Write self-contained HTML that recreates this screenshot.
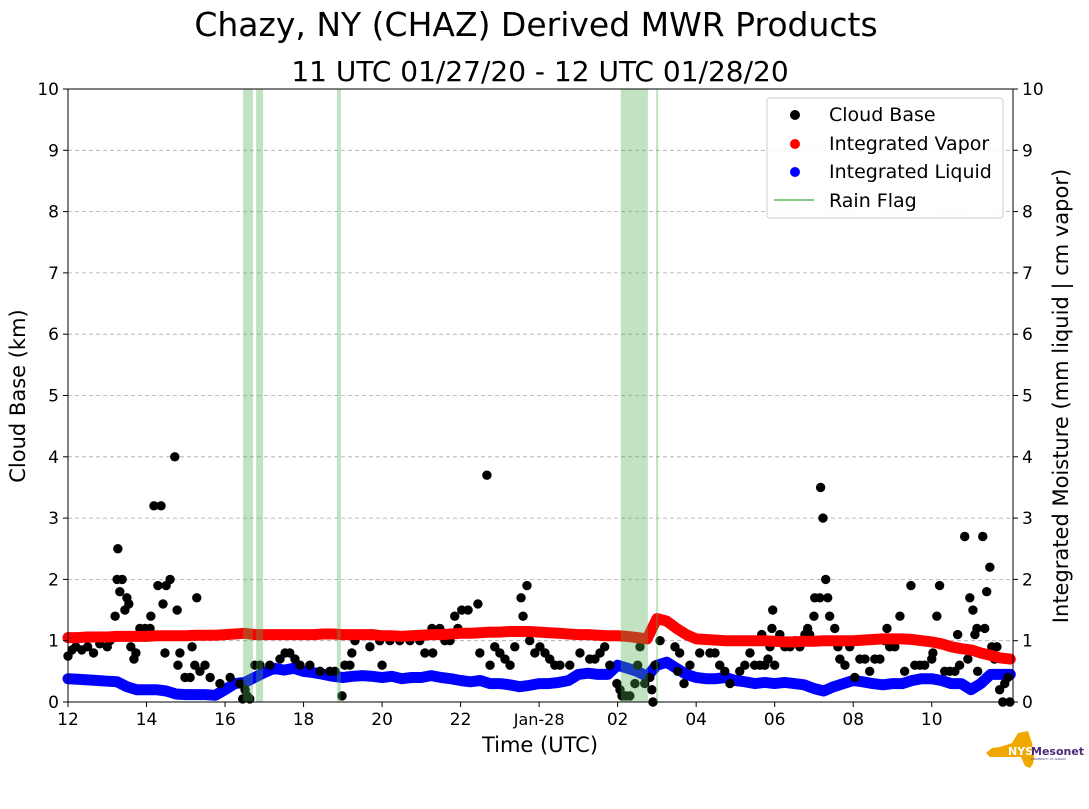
<!DOCTYPE html>
<html><head><meta charset="utf-8"><style>
body{margin:0;background:#fff;}
svg text{font-family:"DejaVu Sans","Liberation Sans",sans-serif;}
</style></head><body>
<svg id="c" width="1089" height="804" xmlns="http://www.w3.org/2000/svg">
<text x="536" y="36" font-size="33" text-anchor="middle">Chazy, NY (CHAZ) Derived MWR Products</text>
<text x="540" y="81" font-size="28" text-anchor="middle">11 UTC 01/27/20 - 12 UTC 01/28/20</text>
<g id="grid"></g><g id="marks"></g><g id="rain"></g>
<rect x="68" y="89" width="945" height="613" fill="none" stroke="#000" stroke-width="1"/>
<g id="axes"></g>
<text x="540" y="752" font-size="21" text-anchor="middle">Time (UTC)</text>
<text transform="translate(25,396) rotate(-90)" font-size="21" text-anchor="middle">Cloud Base (km)</text>
<text transform="translate(1068,396) rotate(-90)" font-size="21" text-anchor="middle">Integrated Moisture (mm liquid | cm vapor)</text>
<g>
<rect x="767" y="98" width="236" height="120" rx="3" fill="#fff" fill-opacity="0.85" stroke="#ccc"/>
<circle cx="795" cy="115" r="5" fill="#000"/><text x="829" y="121" font-size="19">Cloud Base</text>
<circle cx="795" cy="144" r="5" fill="red"/><text x="829" y="150" font-size="19">Integrated Vapor</text>
<circle cx="795" cy="172" r="5" fill="blue"/><text x="829" y="178" font-size="19">Integrated Liquid</text>
<line x1="774" y1="200" x2="814" y2="200" stroke="#5cb85c" stroke-width="1.5"/><text x="829" y="207" font-size="19">Rain Flag</text>
</g>
<g>
<path d="M1000,747 L1012,743 L1018,733 L1028,731 L1032,743 L1034,757 L1033,764 L1030,768 L1025,766 L1021,757 L990,757 L986,753 L992,748 Z" fill="#f0a800"/>
<text x="1008" y="755" font-size="11" font-weight="bold" fill="#fff">NYS</text>
<text x="1031" y="755" font-size="11" font-weight="bold" fill="#4b2a7b">Mesonet</text>
<text x="1031" y="760" font-size="3" fill="#4b2a7b">UNIVERSITY AT ALBANY</text>
</g>
</svg>
<script>
const tickLabels=["12","14","16","18","20","22","Jan-28","02","04","06","08","10"];
const yTicks=[0,1,2,3,4,5,6,7,8,9,10];
const rainStart=[4.46,4.79,6.85,14.08,14.98];
const rainEnd=[4.71,4.97,6.95,14.77,15.03];
const cloudPts=[[0,0.75],[0.1,0.85],[0.2,0.9],[0.35,0.85],[0.5,0.9],[0.65,0.8],[0.81,0.95],[1.0,0.9],[1.07,1.0],[1.2,1.4],[1.25,2.0],[1.27,2.5],[1.32,1.8],[1.38,2.0],[1.45,1.5],[1.5,1.7],[1.55,1.6],[1.6,0.9],[1.68,0.7],[1.73,0.8],[1.83,1.2],[1.96,1.2],[2.09,1.2],[2.11,1.4],[2.19,3.2],[2.29,1.9],[2.37,3.2],[2.42,1.6],[2.47,0.8],[2.5,1.9],[2.6,2.0],[2.72,4.0],[2.78,1.5],[2.8,0.6],[2.85,0.8],[2.98,0.4],[3.11,0.4],[3.16,0.9],[3.23,0.6],[3.28,1.7],[3.36,0.5],[3.49,0.6],[3.62,0.4],[3.87,0.3],[4.13,0.4],[4.38,0.3],[4.45,0.05],[4.51,0.2],[4.63,0.05],[4.56,0.1],[4.76,0.6],[4.89,0.6],[5.14,0.6],[5.4,0.7],[5.53,0.8],[5.65,0.8],[5.78,0.7],[5.91,0.6],[6.16,0.6],[6.42,0.5],[6.67,0.5],[6.8,0.5],[6.98,0.1],[7.05,0.6],[7.18,0.6],[7.23,0.8],[7.31,1.0],[7.36,1.1],[7.69,0.9],[7.94,1.0],[8.0,0.6],[8.2,1.0],[8.45,1.0],[8.71,1.0],[8.96,1.0],[9.09,0.8],[9.27,1.2],[9.29,0.8],[9.47,1.2],[9.6,1.0],[9.73,1.0],[9.85,1.4],[9.93,1.2],[10.03,1.5],[10.19,1.5],[10.44,1.6],[10.49,0.8],[10.67,3.7],[10.75,0.6],[10.87,0.9],[11.0,0.8],[11.13,0.7],[11.26,0.6],[11.38,0.9],[11.54,1.7],[11.59,1.4],[11.69,1.9],[11.76,1.0],[11.89,0.8],[12.02,0.9],[12.15,0.8],[12.27,0.7],[12.4,0.6],[12.53,0.6],[12.78,0.6],[13.04,0.8],[13.29,0.7],[13.42,0.7],[13.55,0.8],[13.67,0.9],[13.8,0.6],[13.98,0.3],[14.06,0.2],[14.11,0.1],[14.21,0.1],[14.31,0.1],[14.44,0.3],[14.51,0.6],[14.57,0.9],[14.69,0.3],[14.82,0.4],[14.87,0.2],[14.9,0.0],[14.95,0.6],[15.08,1.0],[15.46,0.9],[15.53,0.5],[15.58,0.8],[15.69,0.3],[15.84,0.6],[16.09,0.8],[16.35,0.8],[16.48,0.8],[16.6,0.6],[16.73,0.5],[16.86,0.3],[17.11,0.5],[17.24,0.6],[17.37,0.8],[17.49,0.6],[17.62,0.6],[17.67,1.1],[17.75,0.6],[17.83,0.7],[17.88,0.9],[17.93,1.2],[17.95,1.5],[18.0,0.6],[18.13,1.1],[18.26,0.9],[18.39,0.9],[18.51,1.0],[18.64,0.9],[18.77,1.1],[18.84,1.2],[18.89,1.1],[19.0,1.4],[19.02,1.7],[19.15,1.7],[19.17,3.5],[19.23,3.0],[19.3,2.0],[19.35,1.7],[19.4,1.4],[19.53,1.2],[19.61,0.9],[19.66,0.7],[19.79,0.6],[19.91,0.9],[20.04,0.4],[20.17,0.7],[20.3,0.7],[20.42,0.5],[20.55,0.7],[20.68,0.7],[20.8,1.0],[20.86,1.2],[20.93,0.9],[21.06,0.9],[21.19,1.4],[21.31,0.5],[21.47,1.9],[21.57,0.6],[21.7,0.6],[21.82,0.6],[22.0,0.7],[22.03,0.8],[22.13,1.4],[22.2,1.9],[22.33,0.5],[22.46,0.5],[22.59,0.5],[22.66,1.1],[22.71,0.6],[22.84,2.7],[22.92,0.7],[22.97,1.7],[23.05,1.5],[23.1,1.1],[23.15,1.2],[23.17,0.5],[23.3,2.7],[23.35,1.2],[23.4,1.8],[23.48,2.2],[23.53,0.9],[23.6,0.7],[23.66,0.9],[23.73,0.2],[23.81,0.0],[23.86,0.3],[23.94,0.4],[23.99,0.0]];
const vapor=[1.05,1.05,1.06,1.06,1.06,1.07,1.07,1.07,1.07,1.08,1.08,1.08,1.08,1.09,1.09,1.09,
1.1,1.11,1.12,1.1,1.1,1.1,1.1,1.1,1.1,1.1,1.11,1.11,1.1,1.1,1.1,1.1,
1.08,1.08,1.07,1.08,1.09,1.1,1.1,1.11,1.12,1.12,1.13,1.14,1.14,1.15,1.15,1.15,
1.14,1.13,1.12,1.11,1.1,1.1,1.09,1.08,1.08,1.07,1.05,1.03,1.36,1.32,1.2,1.1,
1.03,1.02,1.01,1.0,1.0,1.0,1.0,1.0,0.99,0.98,0.98,0.99,0.99,1.0,1.0,1.0,
1.0,1.01,1.02,1.03,1.03,1.03,1.02,1.0,0.98,0.95,0.9,0.87,0.85,0.8,0.76,0.72,0.7];
const liquid=[0.38,0.37,0.36,0.35,0.34,0.33,0.25,0.2,0.2,0.2,0.18,0.13,0.12,0.12,0.12,0.11,
0.2,0.3,0.32,0.4,0.48,0.55,0.52,0.55,0.5,0.48,0.45,0.42,0.4,0.42,0.43,0.42,
0.4,0.42,0.38,0.4,0.4,0.43,0.4,0.38,0.35,0.33,0.35,0.3,0.3,0.28,0.25,0.27,
0.3,0.3,0.32,0.35,0.45,0.47,0.45,0.45,0.6,0.55,0.5,0.42,0.6,0.65,0.55,0.45,
0.4,0.38,0.38,0.4,0.35,0.33,0.3,0.32,0.3,0.32,0.3,0.28,0.22,0.18,0.25,0.3,
0.35,0.33,0.3,0.28,0.3,0.3,0.35,0.38,0.38,0.35,0.3,0.3,0.2,0.3,0.45,0.45,0.45];
const seriesStep=0.25;
const X0=68,X1=1013,Y0=702,Y1=89,HMAX=24.07;
const xs=h=>X0+h*(X1-X0)/HMAX, ys=v=>Y0-v*(Y0-Y1)/10;
const NS="http://www.w3.org/2000/svg";
function mk(p,tag,at){const e=document.createElementNS(NS,tag);for(const k in at)e.setAttribute(k,at[k]);p.appendChild(e);return e;}
const grid=document.getElementById('grid'),axes=document.getElementById('axes'),rain=document.getElementById('rain'),marks=document.getElementById('marks');
yTicks.forEach(v=>{
 if(v>0&&v<10){const g=mk(grid,'line',{x1:X0,x2:X1,y1:ys(v),y2:ys(v),stroke:'#aaa','stroke-dasharray':'4,3','stroke-width':0.8});
 
 }
 mk(axes,'line',{x1:X0-5,x2:X0,y1:ys(v),y2:ys(v),stroke:'#000'});
 mk(axes,'line',{x1:X1,x2:X1+5,y1:ys(v),y2:ys(v),stroke:'#000'});
 const t=mk(axes,'text',{x:X0-9,y:ys(v)+6,'font-size':17,'text-anchor':'end'});t.textContent=v;
 
 
 const t2=mk(axes,'text',{x:X1+9,y:ys(v)+6,'font-size':17});t2.textContent=v;
 
 
});
tickLabels.forEach((l,i)=>{const x=xs(i*2);
 mk(axes,'line',{x1:x,x2:x,y1:Y0,y2:Y0+5,stroke:'#000'});
 const t=mk(axes,'text',{x:x,y:Y0+23,'font-size':l.length>2?16:17,'text-anchor':'middle'});t.textContent=l;
 
 
});
function ribbon(arr,col,name){
 const pts=arr.map((v,i)=>xs(i*seriesStep).toFixed(1)+','+ys(v).toFixed(1)).join(' ');
 const p=mk(marks,'polyline',{points:pts,fill:'none',stroke:col,'stroke-width':11,'stroke-linecap':'round','stroke-linejoin':'round'});
 
 
}
ribbon(liquid,'blue','integrated-liquid-series');
cloudPts.forEach(p=>{const c=mk(marks,'circle',{cx:xs(p[0]),cy:ys(p[1]),r:4.7,fill:'#000'});
 
 });
ribbon(vapor,'red','integrated-vapor-series');
rainStart.forEach((s,i)=>{const r=mk(rain,'rect',{x:xs(s),y:Y1,width:Math.max(2,xs(rainEnd[i])-xs(s)),height:Y0-Y1,fill:'#4caf50','fill-opacity':0.35});
 
 });
</script>
</body></html>
